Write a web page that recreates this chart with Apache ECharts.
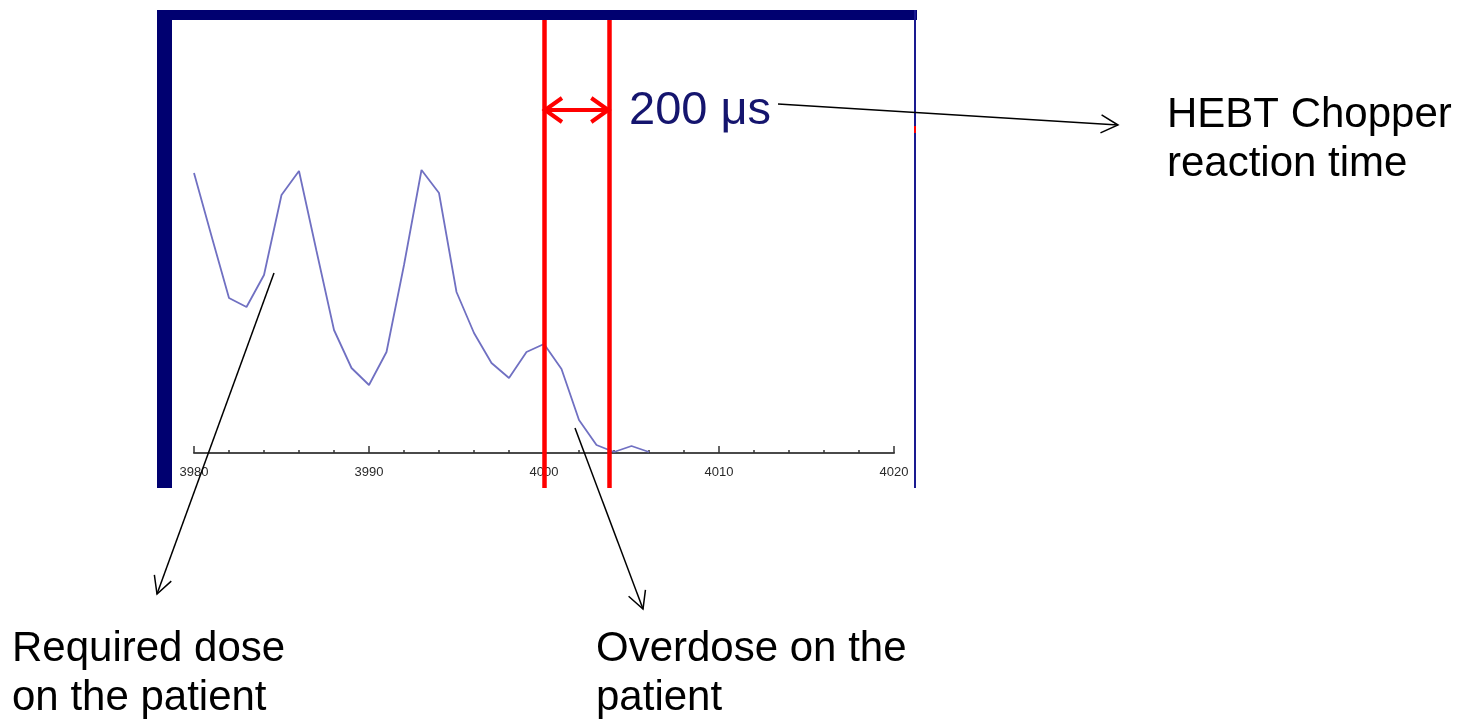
<!DOCTYPE html>
<html>
<head>
<meta charset="utf-8">
<script src="https://cdn.jsdelivr.net/npm/echarts@6/dist/echarts.min.js"></script>
<style>
  html, body { margin: 0; padding: 0; background: #fff; }
  #chart { width: 1460px; height: 720px; }
</style>
</head>
<body>
<div id="chart"></div>
<script>
// 时间轴 (x) 与剂量 (y)
const timeValues = [3980, 3981, 3982, 3983, 3984, 3985, 3986, 3987, 3988, 3989,
    3990, 3991, 3992, 3993, 3994, 3995, 3996, 3997, 3998, 3999,
    4000, 4001, 4002, 4003, 4004, 4005, 4006];
const doseValues = [28.0, 21.7, 15.5, 14.6, 17.8, 25.8, 28.2, 20.2, 12.3, 8.5,
    6.8, 10.1, 18.8, 28.3, 26.0, 16.1, 12.0, 9.0, 7.5, 10.1,
    10.9, 8.4, 3.3, 0.8, 0.1, 0.7, 0.1];
// 两条红线：斩波器触发 与 束流真正切断
const chopperLines = [4000, 4003.73];
const reactionLabel = '200 \u03bcs';
const arrowLevel = 34.3;

const NAVY = '#000070';
const TEXT_FONT = '"Liberation Sans", Arial, sans-serif';

/**
 * 开口箭头 (V 形)
 * @param from 起点
 * @param tip 箭头尖端
 * @param len 箭头长度
 * @param half 半宽
 */
function arrowHead(from, tip, len, half) {
    const dx = tip[0] - from[0], dy = tip[1] - from[1];
    const d = Math.sqrt(dx * dx + dy * dy);
    const ux = dx / d, uy = dy / d;
    const bx = tip[0] - ux * len, by = tip[1] - uy * len;
    return [[bx - uy * half, by + ux * half], tip, [bx + uy * half, by - ux * half]];
}

function annotationArrow(from, tip, color, width, len, half) {
    return [
        {type: 'line', z: 100, shape: {x1: from[0], y1: from[1], x2: tip[0], y2: tip[1]},
            style: {stroke: color, lineWidth: width}},
        {type: 'polyline', z: 100, shape: {points: arrowHead(from, tip, len, half)},
            style: {stroke: color, lineWidth: width, fill: null}}
    ];
}

function label(text, x, y, size) {
    return {type: 'text', z: 100, x: x, y: y,
        style: {text: text, font: size + 'px ' + TEXT_FONT, fill: '#000', verticalAlign: 'middle'}};
}

const option = {
    animation: false,
    backgroundColor: '#fff',
    grid: [
        // 曲线与时间轴
        {left: 194, right: 566, top: 20, bottom: 267},
        // 红线覆盖整个框高
        {left: 194, right: 566, top: 20, bottom: 232}
    ],
    xAxis: [
        {
            type: 'value',
            gridIndex: 0,
            min: 3980,
            max: 4020,
            interval: 10,
            axisLine: {lineStyle: {color: '#4a4a4a', width: 2}},
            axisTick: {inside: true, length: 7, lineStyle: {color: '#333', width: 1.5}},
            minorTick: {show: true, splitNumber: 5, length: 3, lineStyle: {color: '#333', width: 1.5}},
            axisLabel: {
                color: '#2a2a2a', fontSize: 13, fontFamily: TEXT_FONT, margin: 13,
                formatter: v => String(v)
            },
            splitLine: {show: false}
        },
        {type: 'value', gridIndex: 1, min: 3980, max: 4020, show: false}
    ],
    yAxis: [
        {type: 'value', gridIndex: 0, min: 0, max: 43.3, show: false},
        {type: 'value', gridIndex: 1, min: -3.5, max: 43.3, show: false}
    ],
    series: [
        {
            type: 'line',
            xAxisIndex: 0,
            yAxisIndex: 0,
            data: timeValues.map((t, i) => [t, doseValues[i]]),
            symbol: 'none',
            lineStyle: {color: '#7070c2', width: 1.8}
        },
        {
            type: 'line',
            xAxisIndex: 1,
            yAxisIndex: 1,
            data: [],
            markLine: {
                silent: true,
                symbol: 'none',
                label: {show: false},
                lineStyle: {color: '#ff0000', width: 4.5, type: 'solid'},
                data: chopperLines.map(x => ({xAxis: x}))
            }
        }
    ]
};

const chart = echarts.init(document.getElementById('chart'));
chart.setOption(option);

// 红色双向箭头：由数据坐标换算为像素
const pA = chart.convertToPixel({gridIndex: 1}, [chopperLines[0], arrowLevel]);
const pB = chart.convertToPixel({gridIndex: 1}, [chopperLines[1], arrowLevel]);
const a = [pA[0] + 1, pA[1]], b = [pB[0] - 1, pB[1]];

const graphics = [
    // 外框
    {type: 'rect', z: 90, shape: {x: 157, y: 10, width: 760, height: 10}, style: {fill: NAVY}},
    {type: 'rect', z: 90, shape: {x: 157, y: 10, width: 15, height: 478}, style: {fill: NAVY}},
    {type: 'rect', z: 90, shape: {x: 914, y: 10, width: 2, height: 478}, style: {fill: '#1a1a90'}},
    {type: 'rect', z: 91, shape: {x: 914, y: 126, width: 2, height: 7}, style: {fill: '#ff0000'}},
    {type: 'line', z: 100, shape: {x1: a[0], y1: a[1], x2: b[0], y2: b[1]},
        style: {stroke: '#ff0000', lineWidth: 4}},
    {type: 'polyline', z: 100, shape: {points: arrowHead(b, a, 17, 12)},
        style: {stroke: '#ff0000', lineWidth: 4, fill: null}},
    {type: 'polyline', z: 100, shape: {points: arrowHead(a, b, 17, 12)},
        style: {stroke: '#ff0000', lineWidth: 4, fill: null}},
    {type: 'text', z: 100, x: 629, y: 111,
        style: {text: reactionLabel, font: '47px ' + TEXT_FONT, fill: '#15156e', verticalAlign: 'middle'}},
    label('HEBT Chopper', 1167, 115, 42),
    label('reaction time', 1167, 164, 42),
    label('Required dose', 12, 649, 42),
    label('on the patient', 12, 698, 42),
    label('Overdose on the', 596, 649, 42),
    label('patient', 596, 698, 42)
]
    .concat(annotationArrow([778, 104], [1118, 125], '#000', 1.5, 17, 9))
    .concat(annotationArrow([274, 273], [157, 594], '#000', 1.5, 17, 9))
    .concat(annotationArrow([575, 428], [643, 609], '#000', 1.5, 17, 9));

chart.setOption({graphic: graphics});
</script>
</body>
</html>
